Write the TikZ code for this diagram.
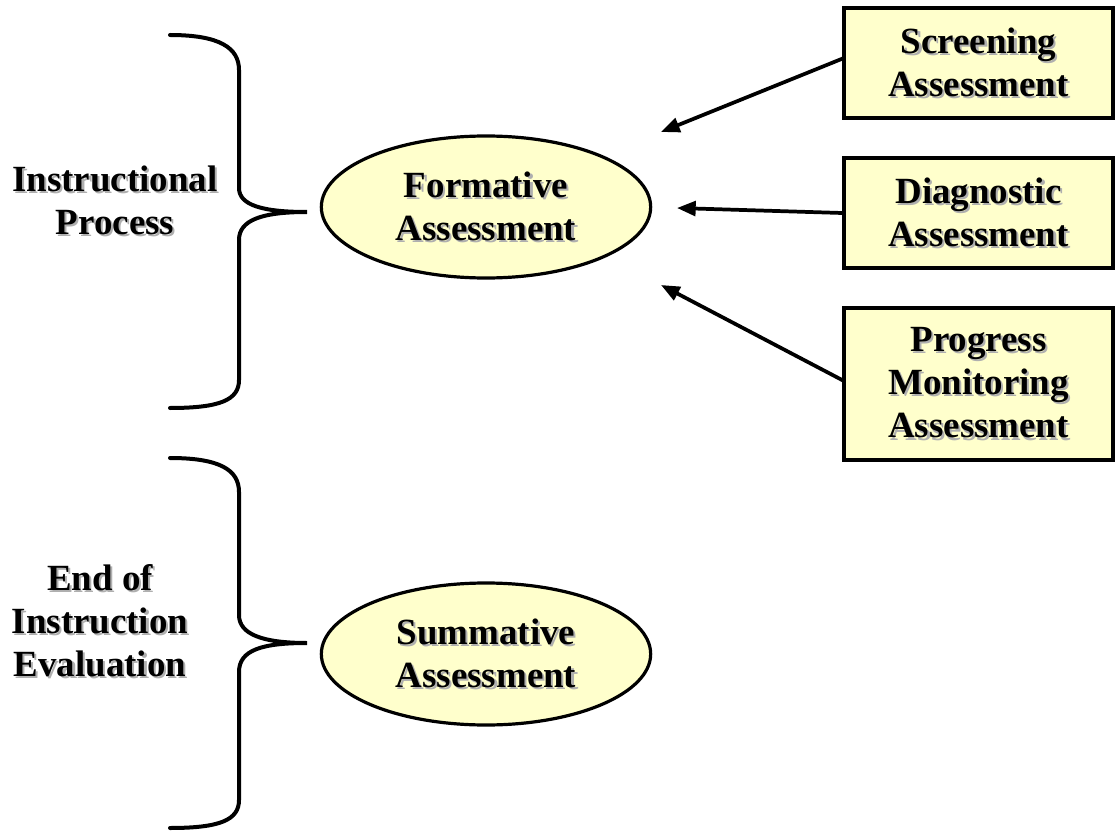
\documentclass[tikz,border=0pt]{standalone}
\usepackage{fontspec}
\setmainfont{Liberation Serif}
\usetikzlibrary{arrows.meta,shapes.geometric}
\definecolor{boxfill}{RGB}{255,255,204}
\definecolor{shd}{RGB}{175,175,175}
\newcommand\sh[1]{\makebox[0pt][l]{\hspace{1.6pt}\raisebox{-1.6pt}{\color{shd}#1}}#1}
\tikzset{
  lbl/.style={font=\bfseries\fontsize{27.7}{32.3}\selectfont, align=center, inner sep=0pt},
  boxnode/.style={lbl, draw=black, line width=2.8pt, fill=boxfill, minimum width=201.75pt},
  ellnode/.style={lbl, ellipse, draw=black, line width=2.4pt, fill=boxfill, minimum width=247pt, minimum height=106.5pt},
  brace/.style={line width=3pt, line cap=round},
  arr/.style={line width=2.8pt, -{Triangle[length=14pt,width=11pt]}}
}
\begin{document}
\begin{tikzpicture}[x=0.75pt,y=-0.75pt]
\useasboundingbox (0,0) rectangle (1117,834);
% boxes
\node[boxnode, minimum height=82.5pt] (scr) at (978.5,63) {\sh{Screening}\\\sh{Assessment}};
\node[boxnode, minimum height=82.5pt] (dia) at (978.5,213) {\sh{Diagnostic}\\\sh{Assessment}};
\node[boxnode, minimum height=114pt] (prg) at (978.5,384) {\sh{Progress}\\\sh{Monitoring}\\\sh{Assessment}};
% ellipses
\node[ellnode] (form) at (486,207) {\sh{Formative}\\\sh{Assessment}};
\node[ellnode] (summ) at (486,654) {\sh{Summative}\\\sh{Assessment}};
% left labels
\node[lbl] (instr) at (115,201) {\sh{Instructional}\\\sh{Process}};
\node[lbl] (endi) at (100,622) {\sh{End of}\\\sh{Instruction}\\\sh{Evaluation}};
% arrow free ends
\coordinate (t1) at (661,132);
\coordinate (t2) at (677,208);
\coordinate (t3) at (661,285);
\coordinate (s1) at (844,58);
\coordinate (s3) at (844,381);
\draw[arr] (s1) -- (t1);
\draw[arr] (dia.west) -- (t2);
\draw[arr] (s3) -- (t3);
% braces
\coordinate (b1tip) at (307,212);
\coordinate (b2tip) at (307,643);
\draw[brace] (170,35) .. controls (220,35) and (239,48) .. (239,70) -- (239,188)
  .. controls (239,205) and (262,212) .. (b1tip)
  .. controls (262,212) and (239,220) .. (239,240) -- (239,380)
  .. controls (239,400) and (220,408) .. (170,408);
\draw[brace] (170,458) .. controls (220,458) and (239,470) .. (239,492) -- (239,615)
  .. controls (239,634) and (262,643) .. (b2tip)
  .. controls (262,643) and (239,650) .. (239,672) -- (239,800)
  .. controls (239,820) and (220,828) .. (170,828);
\end{tikzpicture}
\end{document}
